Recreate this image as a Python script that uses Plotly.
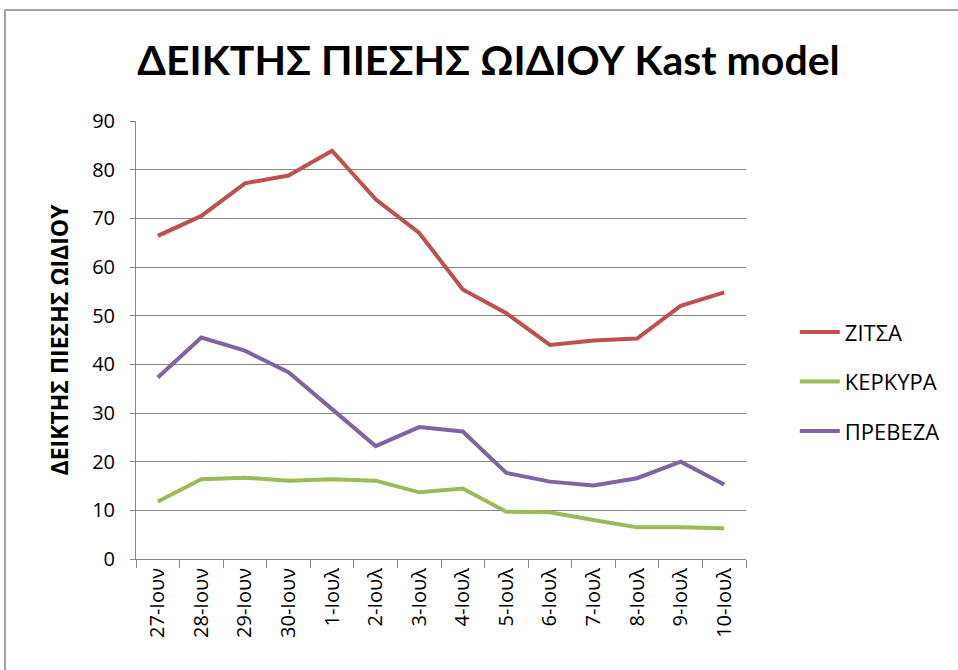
import plotly.graph_objects as go

dates = ["27-Ιουν", "28-Ιουν", "29-Ιουν", "30-Ιουν", "1-Ιουλ", "2-Ιουλ", "3-Ιουλ",
         "4-Ιουλ", "5-Ιουλ", "6-Ιουλ", "7-Ιουλ", "8-Ιουλ", "9-Ιουλ", "10-Ιουλ"]
zitsa = [66.4, 70.5, 77.2, 78.8, 83.9, 73.9, 67.0, 55.4, 50.5, 44.0, 44.9, 45.3, 52.0, 54.8]
kerkyra = [11.8, 16.4, 16.7, 16.1, 16.4, 16.1, 13.7, 14.5, 9.7, 9.6, 8.0, 6.5, 6.5, 6.3]
preveza = [37.3, 45.5, 42.8, 38.4, 30.8, 23.2, 27.1, 26.2, 17.7, 15.9, 15.1, 16.6, 20.0, 15.3]

series = [("ΖΙΤΣΑ", zitsa, "#C0504D"), ("ΚΕΡΚΥΡΑ", kerkyra, "#9BBB59"), ("ΠΡΕΒΕΖΑ", preveza, "#8064A2")]

fig = go.Figure()
for i, (name, vals, col) in enumerate(series):
    fig.add_trace(go.Scatter(x=dates, y=vals, name=name, mode="lines",
                             line=dict(color=col, width=4), legendgroup=str(i)))

fig.update_layout(
    width=958, height=670,
    margin=dict(l=136, r=212, t=121, b=111),
    paper_bgcolor="white", plot_bgcolor="white",
    font=dict(family="Open Sans, DejaVu Sans, sans-serif", color="#000000"),
    title=dict(text="<b>ΔΕΙΚΤΗΣ ΠΙΕΣΗΣ ΩΙΔΙΟΥ Kast model</b>", x=0.510, xanchor="center",
               y=0.9097, yanchor="middle",
               font=dict(family="Lato, Open Sans, sans-serif", size=41, color="#000000")),
    showlegend=True,
    legend=dict(x=1.080, y=0.405, xanchor="left", yanchor="middle",
                font=dict(size=22, color="#000000"), tracegroupgap=18,
                itemwidth=40),
    xaxis=dict(type="category", showgrid=False, showline=True, linecolor="#868686", linewidth=1,
               ticks="outside", tickson="boundaries", ticklen=8, tickcolor="#868686",
               tickangle=-90, tickfont=dict(size=20, color="#000000"),
               range=[-0.5, 13.5]),
    yaxis=dict(range=[0, 90], dtick=10, showgrid=True, gridcolor="#868686", gridwidth=1,
               showline=True, linecolor="#868686", linewidth=1, ticks="outside", ticklen=5,
               tickcolor="#868686", tickfont=dict(size=20, color="#000000"), zeroline=False,
               ticklabelstandoff=11,
               title=dict(text="<b>ΔΕΙΚΤΗΣ ΠΙΕΣΗΣ ΩΙΔΙΟΥ</b>", font=dict(size=23, color="#000000"),
                          standoff=17)),
    shapes=[dict(type="rect", xref="paper", yref="paper", x0=-0.2148, x1=1.6, y0=-0.6, y1=1.2534,
                 line=dict(color="#868686", width=1.5), fillcolor="rgba(0,0,0,0)", layer="below")],
)

fig.write_html("out.html", config={"displayModeBar": False},
               post_script="document.body.style.margin='0';")
